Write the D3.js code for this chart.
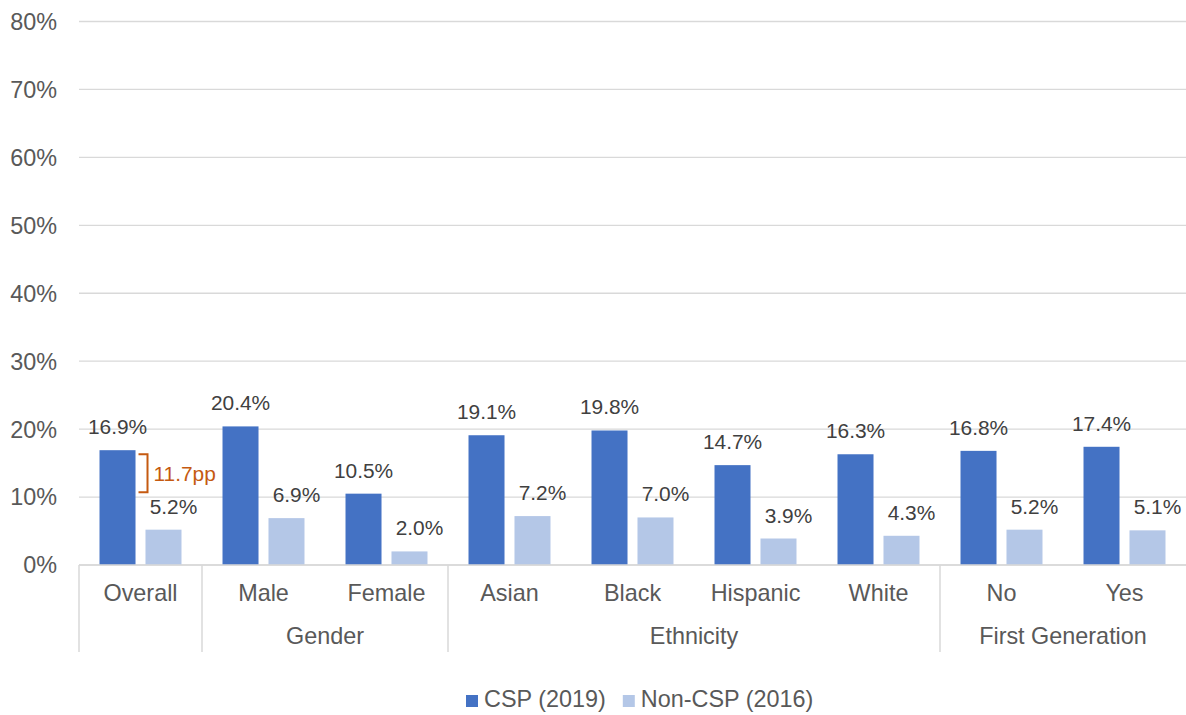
<!DOCTYPE html>
<html>
<head>
<meta charset="utf-8">
<script src="https://cdn.jsdelivr.net/npm/d3@7"></script>
<style>
  body { margin: 0; background: #fff; }
  svg text { font-family: Arial, "Liberation Sans", sans-serif; }
</style>
</head>
<body>
<svg id="chart" width="1186" height="715"></svg>
<script>
// chart data
var categories = ["Overall", "Male", "Female", "Asian", "Black", "Hispanic", "White", "No", "Yes"];
var seriesNames = ["CSP (2019)", "Non-CSP (2016)"];
var cspValues = [16.9, 20.4, 10.5, 19.1, 19.8, 14.7, 16.3, 16.8, 17.4];
var nonCspValues = [5.2, 6.9, 2.0, 7.2, 7.0, 3.9, 4.3, 5.2, 5.1];
var groupNames = ["", "Gender", "Ethnicity", "First Generation"];
var groupMembers = [["Overall"], ["Male", "Female"], ["Asian", "Black", "Hispanic", "White"], ["No", "Yes"]];
var yTicks = [0, 10, 20, 30, 40, 50, 60, 70, 80];
var gapNote = {category: "Overall", top: 16.3, bottom: 10.7, label: "11.7pp"};

var colors = ["#4472C4", "#B4C7E7"];
var axisFont = 23.4, labelFont = 20.9;

var svg = d3.select("#chart");

var x = d3.scaleBand()
    .domain(categories)
    .range([79, 1186]);

var xs = d3.scaleBand()
    .domain(seriesNames)
    .range([0, x.bandwidth()])
    .paddingInner(0.217)
    .paddingOuter(0.446);

var y = d3.scaleLinear()
    .domain([0, 80])
    .range([565, 21.5]);

// gridlines + y labels
var grid = svg.append("g").attr("class", "grid");
grid.selectAll("line")
    .data(yTicks)
    .enter().append("line")
    .attr("x1", 79)
    .attr("x2", 1186)
    .attr("y1", d => y(d))
    .attr("y2", d => y(d))
    .attr("stroke", "#d9d9d9")
    .attr("stroke-width", 1.3);

grid.selectAll("text")
    .data(yTicks)
    .enter().append("text")
    .attr("x", 57)
    .attr("y", d => y(d))
    .attr("dy", "0.36em")
    .attr("text-anchor", "end")
    .attr("fill", "#595959")
    .attr("font-size", axisFont)
    .text(d => d + "%");

// bars
var table = categories.map((c, i) => ({cat: c, vals: [cspValues[i], nonCspValues[i]]}));

var groups = svg.append("g").attr("class", "bars")
    .selectAll("g")
    .data(table)
    .enter().append("g")
    .attr("transform", d => "translate(" + x(d.cat) + ",0)");

groups.selectAll("rect")
    .data(d => d.vals.map((v, j) => ({s: seriesNames[j], v: v, j: j})))
    .enter().append("rect")
    .attr("x", d => xs(d.s))
    .attr("width", xs.bandwidth())
    .attr("y", d => y(d.v))
    .attr("height", d => y(0) - y(d.v))
    .attr("fill", d => colors[d.j]);

groups.selectAll("text")
    .data(d => d.vals.map((v, j) => ({s: seriesNames[j], v: v, j: j})))
    .enter().append("text")
    .attr("x", d => xs(d.s) + xs.bandwidth() / 2 + (d.j == 1 ? 10 : 0))
    .attr("y", d => y(d.v) - 16)
    .attr("text-anchor", "middle")
    .attr("fill", "#404040")
    .attr("font-size", labelFont)
    .text(d => d.v.toFixed(1) + "%");

// category axis (two levels)
var axis = svg.append("g").attr("class", "xaxis");
axis.append("line")
    .attr("x1", 79).attr("x2", 1186)
    .attr("y1", y(0)).attr("y2", y(0))
    .attr("stroke", "#d9d9d9")
    .attr("stroke-width", 1.5);

axis.selectAll("text.cat")
    .data(categories)
    .enter().append("text")
    .attr("class", "cat")
    .attr("x", d => x(d) + x.bandwidth() / 2)
    .attr("y", 601)
    .attr("text-anchor", "middle")
    .attr("fill", "#595959")
    .attr("font-size", axisFont)
    .text(d => d);

var groupData = groupNames.map((g, i) => ({
  name: g,
  x0: x(groupMembers[i][0]),
  x1: x(groupMembers[i][groupMembers[i].length - 1]) + x.bandwidth()
}));

axis.selectAll("line.sep")
    .data(groupData)
    .enter().append("line")
    .attr("class", "sep")
    .attr("x1", d => d.x0).attr("x2", d => d.x0)
    .attr("y1", y(0)).attr("y2", 652)
    .attr("stroke", "#d9d9d9")
    .attr("stroke-width", 1.5);

axis.selectAll("text.grp")
    .data(groupData)
    .enter().append("text")
    .attr("class", "grp")
    .attr("x", d => (d.x0 + d.x1) / 2)
    .attr("y", 644)
    .attr("text-anchor", "middle")
    .attr("fill", "#595959")
    .attr("font-size", axisFont)
    .text(d => d.name);

// gap annotation
var bx = x(gapNote.category) + xs(seriesNames[0]) + xs.bandwidth() + 12;
var note = svg.append("g").attr("class", "note");
note.append("path")
    .attr("d", "M" + (bx - 9) + "," + y(gapNote.top) + "H" + bx + "V" + y(gapNote.bottom) + "H" + (bx - 9))
    .attr("fill", "none")
    .attr("stroke", "#C55A11")
    .attr("stroke-width", 2);
note.append("text")
    .attr("x", bx + 6)
    .attr("y", (y(gapNote.top) + y(gapNote.bottom)) / 2 + 8)
    .attr("fill", "#C55A11")
    .attr("font-size", labelFont)
    .text(gapNote.label);

// legend
var legend = svg.append("g").attr("class", "legend");
var lx = 466;
seriesNames.forEach(function(name, i) {
  legend.append("rect")
      .attr("x", lx).attr("y", 695)
      .attr("width", 12).attr("height", 12)
      .attr("fill", colors[i]);
  var t = legend.append("text")
      .attr("x", lx + 18)
      .attr("y", 707)
      .attr("fill", "#595959")
      .attr("font-size", axisFont)
      .text(name);
  lx += 18 + t.node().getComputedTextLength() + 17;
});
</script>
</body>
</html>
